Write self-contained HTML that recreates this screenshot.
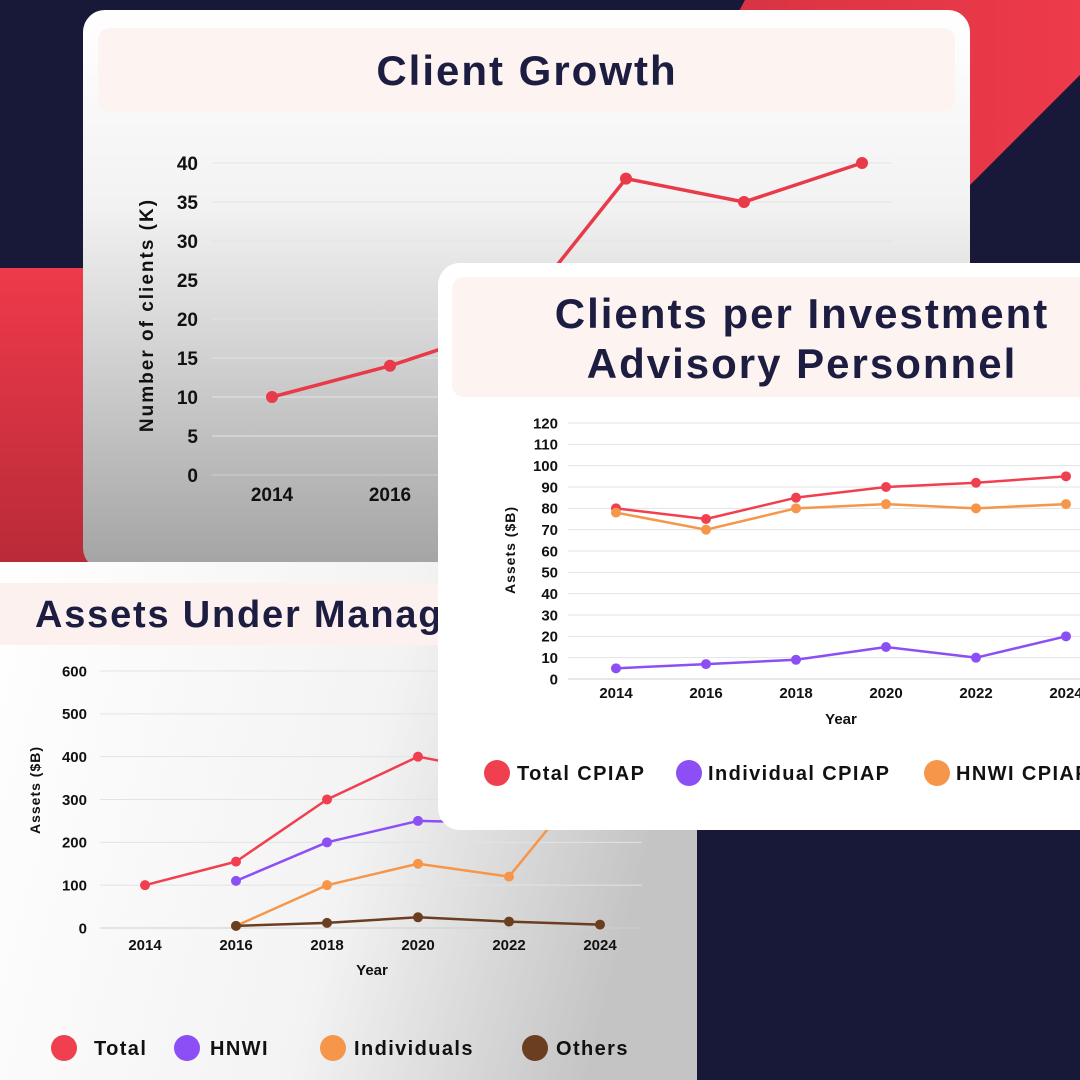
<!DOCTYPE html>
<html><head><meta charset="utf-8"><style>
html,body{margin:0;padding:0;width:1080px;height:1080px;overflow:hidden;background:#161735;font-family:"Liberation Sans",sans-serif}
text{font-family:"Liberation Sans",sans-serif;font-weight:bold}
</style></head><body>
<svg id="s" width="1080" height="1080" viewBox="0 0 1080 1080">
<defs>
<linearGradient id="g1" x1="0" y1="0" x2="0" y2="1"><stop offset="0" stop-color="#ffffff"/><stop offset="0.35" stop-color="#f2f2f2"/><stop offset="1" stop-color="#a3a3a3"/></linearGradient>
<linearGradient id="g3" x1="0" y1="0" x2="1" y2="0.2"><stop offset="0" stop-color="#ffffff"/><stop offset="0.6" stop-color="#f3f3f3"/><stop offset="1" stop-color="#c4c4c4"/></linearGradient>
<linearGradient id="gr" x1="0" y1="0" x2="1" y2="0"><stop offset="0" stop-color="#c9303f"/><stop offset="1" stop-color="#ee3a4a"/></linearGradient>
<linearGradient id="gl" x1="0" y1="0" x2="0" y2="1"><stop offset="0" stop-color="#ee3a4a"/><stop offset="1" stop-color="#b82a38"/></linearGradient>
</defs>
<rect x="0" y="0" width="1080" height="1080" fill="#181938"/>
<polygon points="745,0 1080,0 1080,75 700,455 500,455" fill="url(#gr)"/>
<rect x="0" y="268" width="100" height="300" fill="url(#gl)"/>

<g>
<rect x="83" y="10" width="887" height="560" rx="22" fill="url(#g1)"/>
<rect x="98" y="28" width="857" height="84" rx="12" fill="#fdf3f1"/>
<text x="527" y="85" font-size="42" letter-spacing="2" fill="#1c1d40" text-anchor="middle">Client Growth</text>
<text transform="translate(153,315) rotate(-90)" font-size="19" letter-spacing="2" fill="#111" text-anchor="middle">Number of clients (K)</text>
<g id="c1"></g>
</g>

<g>
<rect x="-20" y="562" width="717" height="540" rx="20" fill="url(#g3)"/>
<rect x="0" y="583" width="697" height="62" fill="#fcf1ef"/>
<text x="35" y="627" font-size="38" letter-spacing="1.8" fill="#1c1d40">Assets Under Management</text>
<text transform="translate(40,790) rotate(-90)" font-size="14" letter-spacing="1" fill="#111" text-anchor="middle">Assets ($B)</text>
<text x="372" y="975" font-size="15" fill="#111" text-anchor="middle">Year</text>
<g id="c3"></g>
</g>

<g>
<rect x="438" y="263" width="680" height="567" rx="22" fill="#ffffff"/>
<rect x="452" y="277" width="640" height="120" rx="12" fill="#fdf3f1"/>
<text x="802" y="328" font-size="42" letter-spacing="2" fill="#1c1d40" text-anchor="middle">Clients per Investment</text>
<text x="802" y="378" font-size="42" letter-spacing="2" fill="#1c1d40" text-anchor="middle">Advisory Personnel</text>
<text transform="translate(515,550) rotate(-90)" font-size="14" letter-spacing="1" fill="#111" text-anchor="middle">Assets ($B)</text>
<text x="841" y="724" font-size="15" fill="#111" text-anchor="middle">Year</text>
<g id="c2"></g>
</g>
</svg>
<script>
// Chart 1: Client Growth
const c1Years = ["2014","2016","2018","2020","2022","2024"];
const c1Clients = [10, 14, 19, 38, 35, 40];
const c1Ticks = [0,5,10,15,20,25,30,35,40];
// Chart 2: CPIAP
const c2Years = ["2014","2016","2018","2020","2022","2024"];
const c2Total = [80, 75, 85, 90, 92, 95];
const c2Individual = [5, 7, 9, 15, 10, 20];
const c2Hnwi = [78, 70, 80, 82, 80, 82];
const c2Ticks = [0,10,20,30,40,50,60,70,80,90,100,110,120];
const c2Legend = ["Total CPIAP","Individual CPIAP","HNWI CPIAP"];
// Chart 3: AUM
const c3Years = ["2014","2016","2018","2020","2022","2024"];
const c3Total = [100, 155, 300, 400, 360, 520];
const c3Hnwi = [null, 110, 200, 250, 245, 420];
const c3Individuals = [null, 5, 100, 150, 120, 380];
const c3Others = [null, 5, 12, 25, 15, 8];
const c3Ticks = [0,100,200,300,400,500,600];
const c3Legend = ["Total","HNWI","Individuals","Others"];

const NS="http://www.w3.org/2000/svg";
function mk(tag,attrs,parent){const e=document.createElementNS(NS,tag);for(const k in attrs)e.setAttribute(k,attrs[k]);parent.appendChild(e);return e;}
function lin(d0,d1,r0,r1){return v=>r0+(v-d0)*(r1-r0)/(d1-d0);}

function drawAxes(g,cfg){
  cfg.ticks.forEach(t=>{
    const y=cfg.y(t);
    const l=mk('line',{x1:cfg.gx0,x2:cfg.gx1,y1:y,y2:y,stroke:t===0?'#cfcfcf':'#e3e3e3','stroke-width':1},g);
    
    
    const tx=mk('text',{x:cfg.lx,y:y+cfg.fs*0.36,'font-size':cfg.fs,fill:'#111','text-anchor':'end'},g);
    tx.textContent=t;
    
    
  });
  cfg.years.forEach((yr,i)=>{
    const tx=mk('text',{x:cfg.x(i),y:cfg.xly,'font-size':cfg.fs,fill:'#111','text-anchor':'middle'},g);
    tx.textContent=yr;
    
    
  });
}
function drawSeries(g,vals,cfg,color,name,r,w){
  let pts=[];
  vals.forEach((v,i)=>{if(v!==null)pts.push([cfg.x(i),cfg.y(v)]);});
  const p=mk('polyline',{points:pts.map(p=>p.join(',')).join(' '),fill:'none',stroke:color,'stroke-width':w,'stroke-linejoin':'round'},g);
  
  
  pts.forEach(q=>{
    const c=mk('circle',{cx:q[0],cy:q[1],r:r,fill:color},g);
    
    
  });
}
function drawLegend(g,labels,colors,cx,tx,y,fs){
  labels.forEach((lb,i)=>{
    const c=mk('circle',{cx:cx[i],cy:y,r:13,fill:colors[i]},g);
    
    
    const t=mk('text',{x:tx[i],y:y+fs*0.36,'font-size':fs,fill:'#111','letter-spacing':1.4},g);
    t.textContent=lb;
    
    
  });
}

// chart 1
(function(){
  const g=document.getElementById('c1');
  const cfg={x:lin(0,5,272,862),y:lin(0,40,475,163),ticks:c1Ticks,years:c1Years,gx0:212,gx1:892,lx:198,xly:501,fs:19};
  drawAxes(g,cfg);
  drawSeries(g,c1Clients,cfg,'#e83a48','clients',6,3.5);
})();
// chart 3
(function(){
  const g=document.getElementById('c3');
  const cfg={x:lin(0,5,145,600),y:lin(0,600,928,671),ticks:c3Ticks,years:c3Years,gx0:100,gx1:642,lx:87,xly:950,fs:15};
  drawAxes(g,cfg);
  drawSeries(g,c3Total,cfg,'#f0404f','total',5,2.5);
  drawSeries(g,c3Hnwi,cfg,'#8c4ff5','hnwi',5,2.5);
  drawSeries(g,c3Individuals,cfg,'#f5964a','individuals',5,2.5);
  drawSeries(g,c3Others,cfg,'#6b3e20','others',5,2.5);
  drawLegend(g,c3Legend,['#f0404f','#8c4ff5','#f5964a','#6b3e20'],[64,187,333,535],[94,210,354,556],1048,20);
})();
// chart 2
(function(){
  const g=document.getElementById('c2');
  const cfg={x:lin(0,5,616,1066),y:lin(0,120,679,423),ticks:c2Ticks,years:c2Years,gx0:568,gx1:1080,lx:558,xly:698,fs:15};
  drawAxes(g,cfg);
  drawSeries(g,c2Total,cfg,'#f0404f','total-cpiap',5,2.5);
  drawSeries(g,c2Hnwi,cfg,'#f5964a','hnwi-cpiap',5,2.5);
  drawSeries(g,c2Individual,cfg,'#8c4ff5','individual-cpiap',5,2.5);
  drawLegend(g,c2Legend,['#f0404f','#8c4ff5','#f5964a'],[497,689,937],[517,708,956],773,20);
})();
</script>
</body></html>
